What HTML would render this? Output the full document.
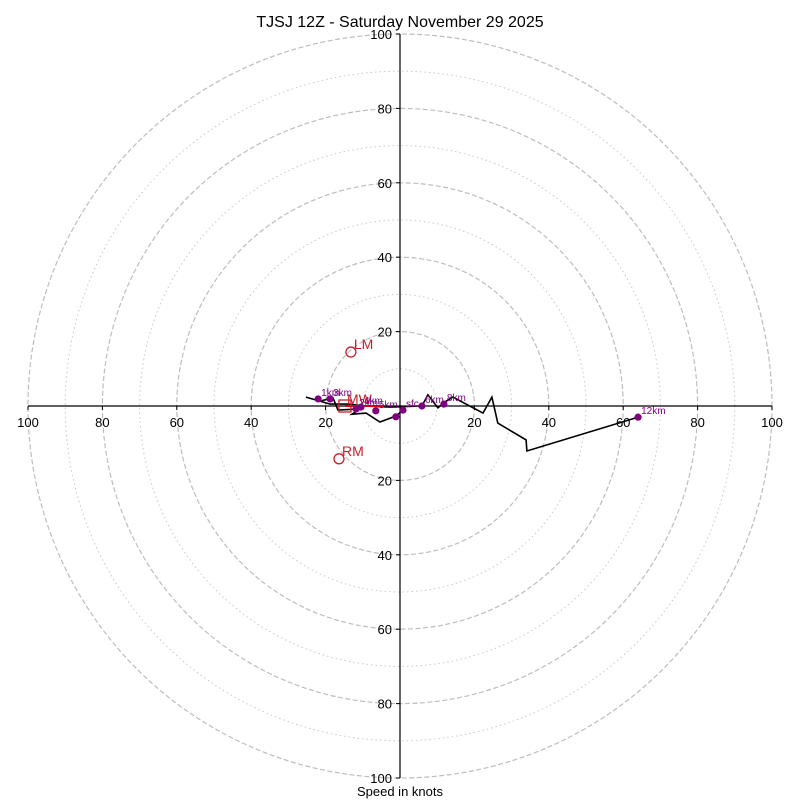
<!DOCTYPE html>
<html><head><meta charset="utf-8"><style>
html,body{margin:0;padding:0;background:#fff;width:800px;height:800px;overflow:hidden}
svg text{font-family:"Liberation Sans","DejaVu Sans",sans-serif}
</style></head><body>
<svg id="chart" width="800" height="800" viewBox="0 0 800 800" xmlns="http://www.w3.org/2000/svg">
<text x="400" y="27" text-anchor="middle" font-size="16">TJSJ 12Z - Saturday November 29 2025</text>
<text x="400" y="796" text-anchor="middle" font-size="13">Speed in knots</text>
<g id="grid"></g><g id="axes"></g><g id="series"></g>
</svg>
<script>
const ringsMajor = [20, 40, 60, 80, 100];
const ringsMinor = [10, 30, 50, 70, 90];
const tickLabels = [100, 80, 60, 40, 20];
const pathU = [0.8,-1.1,-5.4,-9.1,-12.9,-10.8,-16.7,-18.0,-21.5,-25.3,-18.8,-14.0,-9.4,-2.7,5.9,7.5,10.2,12.1,14.2,22.3,24.7,26.3,33.9,34.1,64.0];
const pathV = [-1.1,-2.7,-4.3,-1.9,-2.2,-0.8,-1.1,2.2,1.3,2.4,0.5,0.5,0,-0.3,0,3.0,-0.5,1.1,2.4,-1.9,2.4,-4.6,-9.1,-12.1,-3.0];
const dotLabels = ["sfc","1km","3km","2km","4km","5km","","6km","8km","12km"];
const dotU = [0.8,-22.0,-18.8,-11.8,-10.5,-6.5,-1.1,5.9,11.8,64.0];
const dotV = [-1.1,1.9,1.9,-0.8,-0.3,-1.3,-2.9,0,0.5,-3.0];
const motionNames = ["LM","RM"];
const motionU = [-13.2,-16.4];
const motionV = [14.5,-14.2];
const mwU = -14.8, mwV = 0;

const cx=400, cy=406, k=3.72;
const X=u=>cx+u*k, Y=v=>cy-v*k;
const NS="http://www.w3.org/2000/svg";
function mk(tag,parent,attrs){const e=document.createElementNS(NS,tag);for(const a in attrs)e.setAttribute(a,attrs[a]);parent.appendChild(e);return e;}
const grid=document.getElementById('grid'), axes=document.getElementById('axes'), ser=document.getElementById('series');
ringsMinor.forEach(r=>{const c=mk('circle',grid,{cx,cy,r:r*k,fill:'none',stroke:'#c8c8c8','stroke-width':1,'stroke-dasharray':'1.5,3'});

});
ringsMajor.forEach(r=>{const c=mk('circle',grid,{cx,cy,r:r*k,fill:'none',stroke:'#bdbdbd','stroke-width':1.2,'stroke-dasharray':'5,2.5'});

});
const xl=mk('line',axes,{x1:X(-100),y1:cy,x2:X(100),y2:cy,stroke:'#000','stroke-width':1.2});


const yl=mk('line',axes,{x1:cx,y1:Y(100),x2:cx,y2:Y(-100),stroke:'#000','stroke-width':1.2});


tickLabels.forEach(t=>{[-1,1].forEach(s=>{
 const tx=mk('text',axes,{x:X(s*t),y:cy+21,'text-anchor':'middle','font-size':13});tx.textContent=t;
 
 
 mk('line',axes,{x1:X(s*t),y1:cy,x2:X(s*t),y2:cy+4,stroke:'#000'});
 const ty=mk('text',axes,{x:cx-8,y:Y(s*t)+5,'text-anchor':'end','font-size':13});ty.textContent=t;
 
 
 mk('line',axes,{x1:cx-4,y1:Y(s*t),x2:cx,y2:Y(s*t),stroke:'#000'});
});});
const pts=pathU.map((u,i)=>X(u).toFixed(1)+','+Y(pathV[i]).toFixed(1)).join(' ');
const pl=mk('polyline',ser,{points:pts,fill:'none',stroke:'#000','stroke-width':1.6});


// mean wind
const mwl=mk('line',ser,{x1:X(mwU),y1:Y(mwV),x2:X(-4.5),y2:Y(mwV),stroke:'#e00000','stroke-width':2});


const mws=mk('rect',ser,{x:X(mwU)-6,y:Y(mwV)-6,width:12,height:12,fill:'none',stroke:'#c8202a','stroke-width':1.3});


const mwt=mk('text',ser,{x:X(mwU)+2,y:Y(mwV)-2,'font-size':14,fill:'#c8202a'});mwt.textContent='MW';


motionNames.forEach((n,i)=>{
 const c=mk('circle',ser,{cx:X(motionU[i]),cy:Y(motionV[i]),r:5,fill:'none',stroke:'#c8202a','stroke-width':1.3});
 
 
 const t=mk('text',ser,{x:X(motionU[i])+3,y:Y(motionV[i])-3,'font-size':14,fill:'#c8202a'});t.textContent=n;
 
 
});
dotU.forEach((u,i)=>{
 const c=mk('circle',ser,{cx:X(u),cy:Y(dotV[i]),r:3.6,fill:'#800080'});
 
 
 if(dotLabels[i]){const t=mk('text',ser,{x:X(u)+3,y:Y(dotV[i])-3,'font-size':10,fill:'#800080'});t.textContent=dotLabels[i];
 
 }
});
</script>
</body></html>
